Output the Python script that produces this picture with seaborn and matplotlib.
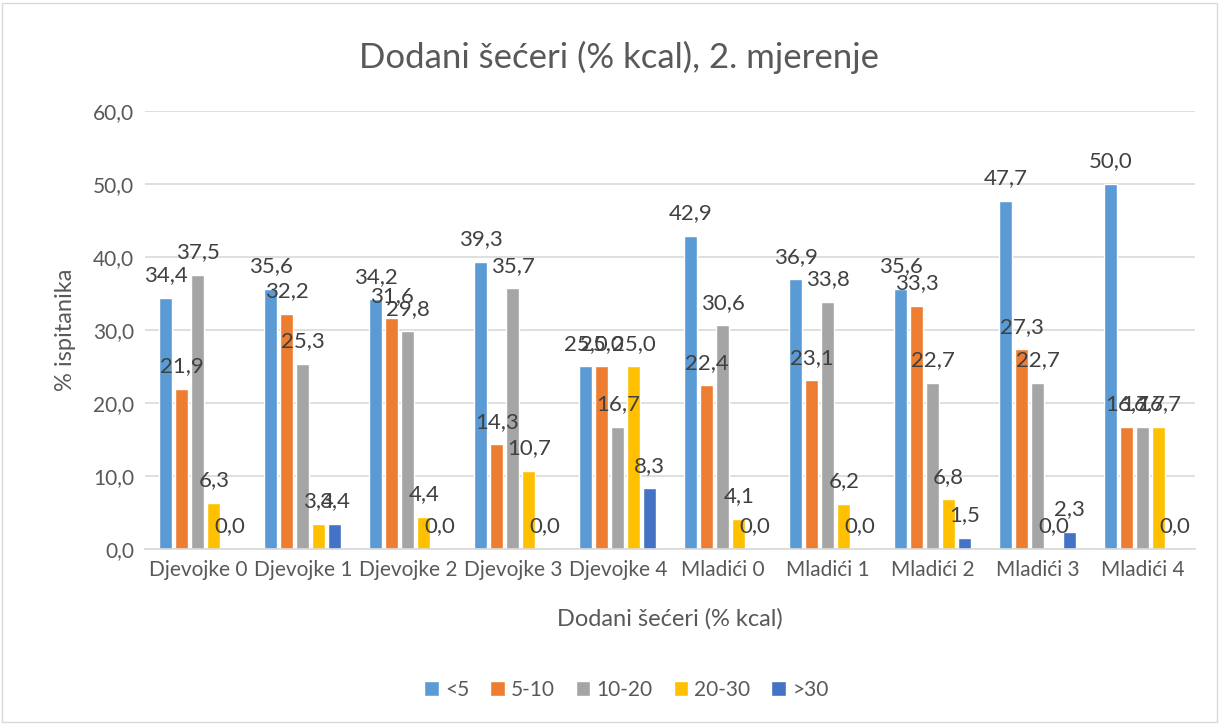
import matplotlib
matplotlib.use("Agg")
import matplotlib.pyplot as plt
import seaborn as sns
import pandas as pd
from matplotlib.patches import Rectangle

# --- data ---
groups = ["Djevojke 0", "Djevojke 1", "Djevojke 2", "Djevojke 3", "Djevojke 4",
          "Mladići 0", "Mladići 1", "Mladići 2", "Mladići 3", "Mladići 4"]
series = ["<5", "5-10", "10-20", "20-30", ">30"]
lt5 = [34.4, 35.6, 34.2, 39.3, 25.0, 42.9, 36.9, 35.6, 47.7, 50.0]
s5_10 = [21.9, 32.2, 31.6, 14.3, 25.0, 22.4, 23.1, 33.3, 27.3, 16.7]
s10_20 = [37.5, 25.3, 29.8, 35.7, 16.7, 30.6, 33.8, 22.7, 22.7, 16.7]
s20_30 = [6.3, 3.4, 4.4, 10.7, 25.0, 4.1, 6.2, 6.8, 0.0, 16.7]
gt30 = [0.0, 3.4, 0.0, 0.0, 8.3, 0.0, 0.0, 1.5, 2.3, 0.0]
colors = ["#5B9BD5", "#ED7D31", "#A5A5A5", "#FFC000", "#4472C4"]

rows = []
for name, vals in zip(series, [lt5, s5_10, s10_20, s20_30, gt30]):
    for g, v in zip(groups, vals):
        rows.append({"grupa": g, "kategorija": name, "vrijednost": v})
df = pd.DataFrame(rows)

sns.set_theme(style="white")
plt.rcParams["font.family"] = ["Lato", "DejaVu Sans"]

fig = plt.figure(figsize=(12.21, 7.24), dpi=100)
ax = fig.add_axes([0.119, 0.242, 0.860, 0.605])

sns.barplot(data=df, x="grupa", y="vrijednost", hue="kategorija",
            palette=colors, width=0.76, gap=0.18, ax=ax, saturation=1)

for cont in ax.containers:
    ax.bar_label(cont, labels=[f"{b.get_height():.1f}".replace(".", ",") for b in cont],
                 padding=9, fontsize=16, color="#404040")

ax.set_ylim(0, 60)
ax.set_yticks(range(0, 61, 10))
ax.set_yticklabels([f"{t:.1f}".replace(".", ",") for t in range(0, 61, 10)])
ax.yaxis.grid(True, color="#D9D9D9", linewidth=1.2)
ax.set_axisbelow(True)
for side in ["top", "right", "left"]:
    ax.spines[side].set_visible(False)
ax.spines["bottom"].set_color("#D9D9D9")
ax.spines["bottom"].set_linewidth(1.2)
ax.tick_params(axis="both", length=0, labelsize=15, colors="#595959", pad=8)
ax.set_xlabel("Dodani šećeri (% kcal)", fontsize=17, color="#595959", labelpad=20)
ax.set_ylabel("% ispitanika", fontsize=17, color="#595959", labelpad=12)

handles, labels = ax.get_legend_handles_labels()
ax.get_legend().remove()
fig.legend(handles, labels, loc="center", bbox_to_anchor=(0.513, 0.047), ncol=5,
           frameon=False, fontsize=15, handlelength=0.7, handleheight=0.7,
           handletextpad=0.3, columnspacing=1.0, labelcolor="#595959")

fig.text(0.507, 0.921, "Dodani šećeri (% kcal), 2. mjerenje", ha="center", va="center",
         fontsize=25, color="#595959")

fig.patches.append(Rectangle((0.002, 0.003), 0.995, 0.993, transform=fig.transFigure,
                             fill=False, edgecolor="#D9D9D9", linewidth=1))

fig.savefig("out.png", dpi=100)
